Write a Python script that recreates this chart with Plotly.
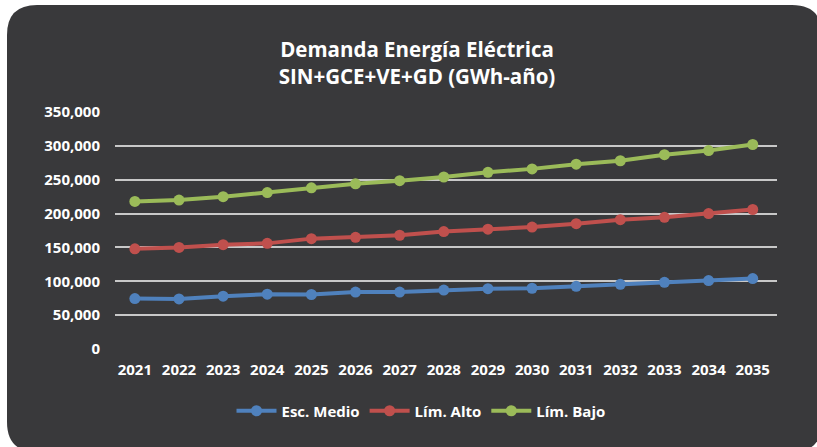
import plotly.graph_objects as go

years = [str(y) for y in range(2021, 2036)]
esc_medio = [74500, 74000, 78000, 81000, 80500, 84000, 84000, 87000, 89000, 89700, 92600, 95600, 98500, 101000, 104000]
lim_alto = [148000, 150000, 154000, 156000, 163000, 165000, 168000, 173500, 177000, 180000, 185000, 191000, 194500, 200000, 206000]
lim_bajo = [218000, 220000, 225000, 231000, 238000, 244000, 248500, 254000, 261000, 266000, 273000, 278000, 287000, 293000, 302000]
y_ticks = [0, 50000, 100000, 150000, 200000, 250000, 300000, 350000]

W, H = 817, 447
L, R, T, B = 115, 40, 112, 98
pw, ph = W - L - R, H - T - B

def px(x):
    return (x - L) / pw

def py(y):
    return (H - B - y) / ph

# rounded background rectangle in pixel coords
x0, y0, x1, y1, r = 7, 5, 822, 452, 30
path = (
    f"M {px(x0 + r)} {py(y0)} L {px(x1 - r)} {py(y0)} "
    f"Q {px(x1)} {py(y0)} {px(x1)} {py(y0 + r)} "
    f"L {px(x1)} {py(y1 - r)} Q {px(x1)} {py(y1)} {px(x1 - r)} {py(y1)} "
    f"L {px(x0 + r)} {py(y1)} Q {px(x0)} {py(y1)} {px(x0)} {py(y1 - r)} "
    f"L {px(x0)} {py(y0 + r)} Q {px(x0)} {py(y0)} {px(x0 + r)} {py(y0)} Z"
)

font_family = "'Open Sans', sans-serif"
tick_font = dict(size=15, color="white", family=font_family, weight="bold")

fig = go.Figure()
series = [
    ("Esc. Medio", esc_medio, "#4f81bd"),
    ("Lím. Alto", lim_alto, "#c0504d"),
    ("Lím. Bajo", lim_bajo, "#9bbb59"),
]
for name, vals, col in series:
    fig.add_trace(go.Scatter(
        x=years, y=vals, name=name, mode="lines+markers",
        line=dict(color=col, width=4),
        marker=dict(color=col, size=11),
    ))

fig.update_layout(
    width=W, height=H,
    margin=dict(l=L, r=R, t=T, b=B, pad=0),
    paper_bgcolor="white",
    plot_bgcolor="rgba(0,0,0,0)",
    font=dict(family=font_family, color="white", size=15),
    title=dict(
        text="<b>Demanda Energía Eléctrica<br>SIN+GCE+VE+GD (GWh-año)</b>",
        x=417 / W, xanchor="center", y=1 - 57 / H, yanchor="middle",
        font=dict(size=20.5, color="white", family=font_family),
    ),
    shapes=[dict(type="path", xref="paper", yref="paper", path=path,
                 fillcolor="#39393b", line=dict(width=0), layer="below")],
    xaxis=dict(
        showgrid=False, zeroline=False, showline=False, ticks="",
        tickfont=tick_font, ticklabelstandoff=10,
        range=[-0.45, 14.55],
    ),
    yaxis=dict(
        range=[0, 350000], tickvals=y_ticks, tickformat=",",
        showgrid=True, gridcolor="#c8c8c8", gridwidth=1.5,
        zeroline=False, showline=False, ticks="",
        tickfont=tick_font,
        ticklabelstandoff=14,
    ),
    legend=dict(
        orientation="h", x=px(421), xanchor="center", y=py(411), yanchor="middle",
        font=tick_font,
        bgcolor="rgba(0,0,0,0)", itemwidth=40,
    ),
    showlegend=True,
)

fig.write_html("out.html", config={"displayModeBar": False},
               post_script="document.body.style.margin='0';")
